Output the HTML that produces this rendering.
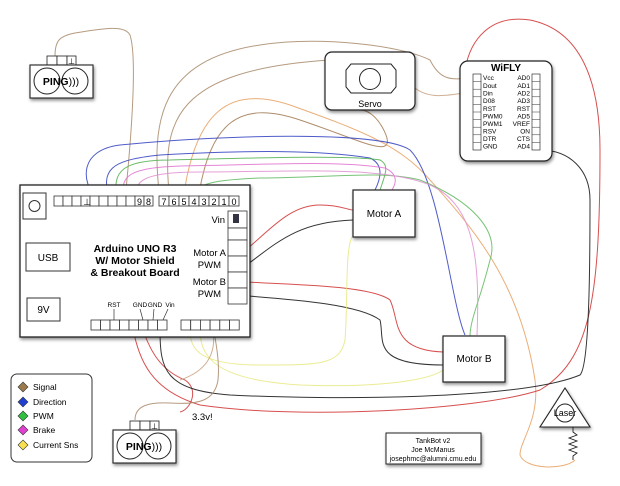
<!DOCTYPE html>
<html><head><meta charset="utf-8"><style>
html,body{margin:0;padding:0;background:#fff;}
svg{display:block;font-family:"Liberation Sans",sans-serif;}
</style></head><body>
<svg width="620" height="486" viewBox="0 0 620 486" xmlns="http://www.w3.org/2000/svg">
<defs>
<filter id="sh" x="-10%" y="-10%" width="130%" height="140%"><feDropShadow dx="1" dy="2" stdDeviation="1.5" flood-color="#000" flood-opacity="0.45"/></filter>
</defs>
<rect width="620" height="486" fill="#fff"/>
<g fill="none" stroke-width="1" stroke-opacity="0.85">
<path d="M55 56 C55 40 60 36 75 33 C105 28 125 25 130 35 C138 60 130 150 125 200" stroke="#a88a6a"/>
<path d="M160 200 C150 120 160 60 260 45 C320 36 400 45 430 60 C440 80 450 80 470 78" stroke="#a88a6a"/>
<path d="M170 200 C160 120 175 70 330 60" stroke="#a88a6a"/>
<path d="M415 88 C430 100 450 95 470 92" stroke="#c8a080"/>
<path d="M198 200 C210 120 240 100 300 120 C360 140 395 160 386 135 C380 120 370 110 360 110" stroke="#a07850"/>
<path d="M183 200 C195 110 230 85 290 105 C360 130 400 145 430 180 C470 225 520 280 535 380 C540 420 520 440 520 455 C525 470 565 470 575 460" stroke="#e8a060"/>
<path d="M97 200 C80 180 80 150 120 145 C220 135 380 130 410 150 C440 180 450 300 465 335" stroke="#3040c0"/>
<path d="M110 200 C100 170 110 160 160 155 C250 150 320 150 370 158 C385 165 380 180 375 190" stroke="#3040c0"/>
<path d="M118 200 C110 170 125 160 170 160 C250 158 350 155 380 160 C390 165 385 175 380 190" stroke="#50b050"/>
<path d="M195 200 C195 185 205 180 260 178 C330 178 380 170 420 180 C470 200 500 230 490 260 C480 300 470 320 470 336" stroke="#60b860"/>
<path d="M125 200 C118 175 130 168 180 166 C260 165 340 160 385 168 C400 175 395 185 392 190" stroke="#e070d0"/>
<path d="M137 200 C132 180 145 172 200 172 C290 172 380 165 430 185 C475 205 480 260 477 335" stroke="#e090d0"/>
<path d="M248 248 C270 230 290 205 320 205 C340 205 348 210 353 210" stroke="#d03030"/>
<path d="M248 282 C290 285 370 285 390 300 C400 320 390 350 443 352" stroke="#d03030"/>
<path d="M133 330 C140 360 150 390 200 405 C300 420 480 410 540 390 C590 360 600 300 600 150 C600 80 580 30 530 20 C490 14 470 40 465 70" stroke="#d03030"/>
<path d="M143 330 C150 350 160 370 185 380 C200 390 190 410 180 412" stroke="#d03030"/>
<path d="M248 264 C280 240 300 222 353 220" stroke="#111"/>
<path d="M248 296 C300 300 360 305 380 320 C385 340 370 365 443 365" stroke="#111"/>
<path d="M160 330 C160 370 165 390 230 395 C330 400 520 400 580 375 C590 365 590 250 590 200 C590 170 570 150 540 150 C520 150 510 170 475 150" stroke="#111"/>
<path d="M190 330 C190 350 200 365 260 365 C320 365 340 365 345 340 C348 300 345 250 352 237" stroke="#e8e880"/>
<path d="M200 330 C200 360 220 380 300 385 C380 388 430 380 443 370" stroke="#e8e880"/>
<path d="M213 330 C216 350 210 370 180 380" stroke="#c8a080"/>
<path d="M135 420 C135 405 150 402 170 403 C200 405 215 400 218 380 C220 360 215 340 214 330" stroke="#a88a6a"/>
</g>

<g filter="url(#sh)"><rect x="20" y="185" width="230" height="152" fill="#fff" stroke="#222" stroke-width="1.3"/></g>
<rect x="23" y="193" width="23" height="26" fill="#fff" stroke="#333"/>
<circle cx="34.5" cy="206" r="5.5" fill="none" stroke="#333"/>
<rect x="26" y="243" width="44" height="28" fill="#fff" stroke="#333"/>
<text x="48" y="261" font-size="10" text-anchor="middle">USB</text>
<rect x="27" y="298" width="33" height="23" fill="#fff" stroke="#333"/>
<text x="43.5" y="313" font-size="10" text-anchor="middle">9V</text>
<text x="135" y="252" font-size="10.5" font-weight="bold" text-anchor="middle">Arduino UNO R3</text>
<text x="135" y="264" font-size="10.5" font-weight="bold" text-anchor="middle">W/ Motor Shield</text>
<text x="135" y="276" font-size="10.5" font-weight="bold" text-anchor="middle">&amp; Breakout Board</text>
<g fill="#fff" stroke="#333" stroke-width="0.8">
<rect x="54" y="196" width="9" height="10"/><rect x="63" y="196" width="9" height="10"/><rect x="72" y="196" width="9" height="10"/><rect x="81" y="196" width="9" height="10"/><rect x="90" y="196" width="9" height="10"/><rect x="99" y="196" width="9" height="10"/><rect x="108" y="196" width="9" height="10"/><rect x="117" y="196" width="9" height="10"/><rect x="126" y="196" width="9" height="10"/><rect x="135" y="196" width="9" height="10"/><rect x="144" y="196" width="9" height="10"/>
<rect x="159" y="196" width="10" height="10"/><rect x="169" y="196" width="10" height="10"/><rect x="179" y="196" width="10" height="10"/><rect x="189" y="196" width="10" height="10"/><rect x="199" y="196" width="10" height="10"/><rect x="209" y="196" width="10" height="10"/><rect x="219" y="196" width="10" height="10"/><rect x="229" y="196" width="10" height="10"/>
</g>
<g font-size="9" text-anchor="middle">
<text x="87" y="205">⊥</text>
<text x="139.5" y="205">9</text><text x="148.5" y="205">8</text>
<text x="164" y="205">7</text><text x="174" y="205">6</text><text x="184" y="205">5</text><text x="194" y="205">4</text><text x="204" y="205">3</text><text x="214" y="205">2</text><text x="224" y="205">1</text><text x="234" y="205">0</text>
</g>
<g fill="#fff" stroke="#333" stroke-width="0.8">
<rect x="228" y="211" width="19" height="17"/><rect x="228" y="228" width="19" height="12"/><rect x="228" y="240" width="19" height="16"/><rect x="228" y="256" width="19" height="16"/><rect x="228" y="272" width="19" height="16"/><rect x="228" y="288" width="19" height="16"/>
</g>
<rect x="233" y="214" width="6" height="9" fill="#334"/>
<text x="225" y="223" font-size="9.5" text-anchor="end">Vin</text>
<text x="226" y="256" font-size="9.5" text-anchor="end">Motor A</text>
<text x="221" y="268" font-size="9.5" text-anchor="end">PWM</text>
<text x="226" y="285" font-size="9.5" text-anchor="end">Motor B</text>
<text x="221" y="297" font-size="9.5" text-anchor="end">PWM</text>
<g fill="#fff" stroke="#333" stroke-width="0.8">
<rect x="91" y="320" width="9.5" height="10"/><rect x="100.5" y="320" width="9.5" height="10"/><rect x="110" y="320" width="9.5" height="10"/><rect x="119.5" y="320" width="9.5" height="10"/><rect x="129" y="320" width="9.5" height="10"/><rect x="138.5" y="320" width="9.5" height="10"/><rect x="148" y="320" width="9.5" height="10"/><rect x="157.5" y="320" width="9.5" height="10"/>
<rect x="181" y="320" width="9.7" height="10"/><rect x="190.7" y="320" width="9.7" height="10"/><rect x="200.4" y="320" width="9.7" height="10"/><rect x="210.1" y="320" width="9.7" height="10"/><rect x="219.8" y="320" width="9.7" height="10"/><rect x="229.5" y="320" width="9.7" height="10"/>
</g>
<g font-size="6.5" text-anchor="middle">
<text x="114" y="307">RST</text><text x="140" y="307">GND</text><text x="155" y="307">GND</text><text x="170" y="307">Vin</text>
</g>
<g stroke="#333" stroke-width="0.7"><line x1="114" y1="309" x2="114" y2="320"/><line x1="140" y1="309" x2="143" y2="320"/><line x1="154" y1="309" x2="153" y2="320"/><line x1="168" y1="309" x2="163" y2="320"/></g>

<g filter="url(#sh)"><rect x="353" y="190" width="62" height="47" fill="#fff" stroke="#222" stroke-width="1.2"/>
<rect x="443" y="336" width="62" height="46" fill="#fff" stroke="#222" stroke-width="1.2"/></g>
<text x="384" y="217" font-size="10" text-anchor="middle">Motor A</text>
<text x="474" y="362" font-size="10" text-anchor="middle">Motor B</text>

<g filter="url(#sh)"><rect x="325" y="52" width="90" height="58" rx="7" fill="#fff" stroke="#222" stroke-width="1.2"/></g>
<path d="M351 64 L391 64 L396 70 L396 87 L391 93 L351 93 L346 87 L346 70 Z" fill="#fff" stroke="#222"/>
<circle cx="370" cy="79" r="10.5" fill="none" stroke="#222"/>
<text x="370" y="107" font-size="9" text-anchor="middle">Servo</text>

<g filter="url(#sh)"><rect x="460" y="61" width="92" height="100" rx="8" fill="#fff" stroke="#222" stroke-width="1.2"/></g>
<text x="506" y="71" font-size="10" font-weight="bold" text-anchor="middle">WiFLY</text>
<g fill="#fff" stroke="#333" stroke-width="0.7">
<rect x="473" y="74" width="8" height="76"/><rect x="532" y="74" width="8" height="76"/>
</g>
<g stroke="#333" stroke-width="0.5">
<line x1="473" y1="81.6" x2="481" y2="81.6"/><line x1="473" y1="89.2" x2="481" y2="89.2"/><line x1="473" y1="96.8" x2="481" y2="96.8"/><line x1="473" y1="104.4" x2="481" y2="104.4"/><line x1="473" y1="112" x2="481" y2="112"/><line x1="473" y1="119.6" x2="481" y2="119.6"/><line x1="473" y1="127.2" x2="481" y2="127.2"/><line x1="473" y1="134.8" x2="481" y2="134.8"/><line x1="473" y1="142.4" x2="481" y2="142.4"/>
<line x1="532" y1="81.6" x2="540" y2="81.6"/><line x1="532" y1="89.2" x2="540" y2="89.2"/><line x1="532" y1="96.8" x2="540" y2="96.8"/><line x1="532" y1="104.4" x2="540" y2="104.4"/><line x1="532" y1="112" x2="540" y2="112"/><line x1="532" y1="119.6" x2="540" y2="119.6"/><line x1="532" y1="127.2" x2="540" y2="127.2"/><line x1="532" y1="134.8" x2="540" y2="134.8"/><line x1="532" y1="142.4" x2="540" y2="142.4"/>
</g>
<g font-size="6.5">
<text x="483" y="80">Vcc</text><text x="483" y="88">Dout</text><text x="483" y="95.5">Din</text><text x="483" y="103">D08</text><text x="483" y="111">RST</text><text x="483" y="118.5">PWM0</text><text x="483" y="126">PWM1</text><text x="483" y="133.5">RSV</text><text x="483" y="141">DTR</text><text x="483" y="148.5">GND</text>
</g>
<g font-size="6.5" text-anchor="end">
<text x="530" y="80">AD0</text><text x="530" y="88">AD1</text><text x="530" y="95.5">AD2</text><text x="530" y="103">AD3</text><text x="530" y="111">RST</text><text x="530" y="118.5">AD5</text><text x="530" y="126">VREF</text><text x="530" y="133.5">ON</text><text x="530" y="141">CTS</text><text x="530" y="148.5">AD4</text>
</g>

<g fill="#fff" stroke="#222" stroke-width="0.8"><rect x="47" y="56" width="10" height="9"/><rect x="57" y="56" width="10" height="9"/><rect x="67" y="56" width="9" height="9"/></g>
<text x="71.5" y="64" font-size="8" text-anchor="middle">⊥</text>
<g filter="url(#sh)"><rect x="30" y="65" width="63" height="33" fill="#fff" stroke="#222" stroke-width="1.1"/></g>
<circle cx="47" cy="81" r="13" fill="none" stroke="#222"/><circle cx="75" cy="81" r="13" fill="none" stroke="#222"/>
<text x="61" y="85" font-size="10.5" font-weight="bold" text-anchor="middle">PING<tspan font-weight="normal">)))</tspan></text>

<g fill="#fff" stroke="#222" stroke-width="0.8"><rect x="130" y="421" width="10" height="9"/><rect x="140" y="421" width="10" height="9"/><rect x="150" y="421" width="9" height="9"/></g>
<text x="154.5" y="429" font-size="8" text-anchor="middle">⊥</text>
<g filter="url(#sh)"><rect x="113" y="430" width="63" height="33" fill="#fff" stroke="#222" stroke-width="1.1"/></g>
<circle cx="130" cy="446" r="13" fill="none" stroke="#222"/><circle cx="158" cy="446" r="13" fill="none" stroke="#222"/>
<text x="144" y="450" font-size="10.5" font-weight="bold" text-anchor="middle">PING<tspan font-weight="normal">)))</tspan></text>
<text x="192" y="420" font-size="9.5">3.3v!</text>

<rect x="11" y="374" width="81" height="88" rx="6" fill="#fff" stroke="#333"/>
<g stroke="#333" stroke-width="0.6">
<path d="M23 382 L28 387 L23 392 L18 387Z" fill="#9b7a4e"/>
<path d="M23 397 L28 402 L23 407 L18 402Z" fill="#2040d0"/>
<path d="M23 411 L28 416 L23 421 L18 416Z" fill="#30c040"/>
<path d="M23 425 L28 430 L23 435 L18 430Z" fill="#e040d0"/>
<path d="M23 440 L28 445 L23 450 L18 445Z" fill="#f8e050"/>
</g>
<g font-size="8.5"><text x="33" y="390">Signal</text><text x="33" y="405">Direction</text><text x="33" y="419">PWM</text><text x="33" y="433">Brake</text><text x="33" y="448">Current Sns</text></g>

<g filter="url(#sh)"><rect x="386" y="433" width="95" height="31" fill="#fff" stroke="#222"/></g>
<g font-size="7" text-anchor="middle"><text x="433" y="443">TankBot v2</text><text x="433" y="452">Joe McManus</text><text x="433" y="461">josephmc@alumni.cmu.edu</text></g>

<g filter="url(#sh)"><path d="M565 388 L590 427 L540 427 Z" fill="#fff" stroke="#222" stroke-width="1.1"/></g>
<circle cx="565" cy="413" r="9" fill="none" stroke="#222"/>
<text x="565" y="416" font-size="9" text-anchor="middle">Laser</text>
<path d="M573 427 L573 432 L577 435 L569 438 L577 441 L569 444 L577 447 L569 450 L577 453 L573 456 L573 460" fill="none" stroke="#222" stroke-width="0.9"/>
</svg>
</body></html>
